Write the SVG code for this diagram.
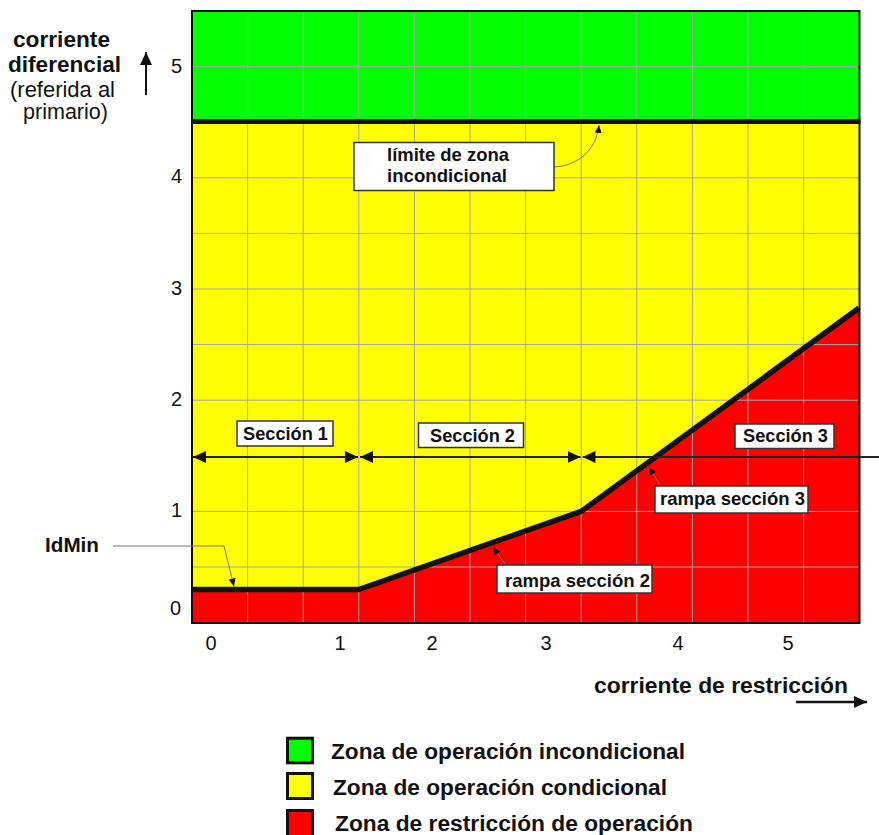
<svg xmlns="http://www.w3.org/2000/svg" width="879" height="835" viewBox="0 0 879 835">
<defs>
<style>
.t{font-family:"Liberation Sans",Arial,sans-serif;fill:#111}
.b{font-weight:bold}
.grid line{stroke:#a6a6a6;stroke-width:1}
.box{fill:#fff;stroke:#333;stroke-width:1.5}
.lead{fill:none;stroke:#777;stroke-width:1}
.sec{stroke:#222;stroke-width:2;fill:none}
</style>
<marker id="big" markerUnits="userSpaceOnUse" viewBox="0 0 13 12" markerWidth="13" markerHeight="12" refX="13" refY="6" orient="auto-start-reverse">
<path d="M0,0 L13,6 L0,12 z" fill="#111"/>
</marker>
<marker id="small" markerUnits="userSpaceOnUse" viewBox="0 0 8 7" markerWidth="8" markerHeight="7" refX="8" refY="3.5" orient="auto">
<path d="M0,0 L8,3.5 L0,7 z" fill="#111"/>
</marker>
</defs>
<rect width="879" height="835" fill="#fff"/>

<g id="zones">
<rect id="zone-green" x="192" y="11" width="667.5" height="110.5" fill="#00ff00"/>
<rect id="zone-yellow" x="192" y="121.5" width="667.5" height="501.5" fill="#ffff00"/>
<path id="zone-red" d="M192,623 L192,589.5 L358.8,589.5 L581.2,511.4 L859.5,308 L859.5,623 Z" fill="#ff0000"/>
</g>

<g id="grid" class="grid">
<line x1="247.6" y1="11" x2="247.6" y2="623"/>
<line x1="303.2" y1="11" x2="303.2" y2="623"/>
<line x1="358.8" y1="11" x2="358.8" y2="623"/>
<line x1="414.4" y1="11" x2="414.4" y2="623"/>
<line x1="470" y1="11" x2="470" y2="623"/>
<line x1="525.6" y1="11" x2="525.6" y2="623"/>
<line x1="581.2" y1="11" x2="581.2" y2="623"/>
<line x1="636.8" y1="11" x2="636.8" y2="623"/>
<line x1="692.4" y1="11" x2="692.4" y2="623"/>
<line x1="748" y1="11" x2="748" y2="623"/>
<line x1="803.6" y1="11" x2="803.6" y2="623"/>
<line x1="192" y1="66.6" x2="859.5" y2="66.6"/>
<line x1="192" y1="177.8" x2="859.5" y2="177.8"/>
<line x1="192" y1="233.4" x2="859.5" y2="233.4"/>
<line x1="192" y1="289" x2="859.5" y2="289"/>
<line x1="192" y1="344.6" x2="859.5" y2="344.6"/>
<line x1="192" y1="400.2" x2="859.5" y2="400.2"/>
<line x1="192" y1="511.4" x2="859.5" y2="511.4"/>
<line x1="192" y1="567" x2="859.5" y2="567"/>
</g>

<g id="frame">
<rect x="192" y="11" width="667.5" height="612" fill="none" stroke="#111" stroke-width="2"/>
</g>

<g id="limit-line">
<line x1="191" y1="121.5" x2="860.5" y2="121.5" stroke="#111" stroke-width="5"/>
</g>

<g id="characteristic">
<path d="M192,589.5 L358.8,589.5 L581.2,511.4 L859,308" fill="none" stroke="#111" stroke-width="5.5" stroke-linejoin="round"/>
</g>

<g id="connectors">
<line class="sec" x1="193" y1="457" x2="358" y2="457" marker-start="url(#big)" marker-end="url(#big)"/>
<line class="sec" x1="360" y1="457" x2="580.5" y2="457" marker-start="url(#big)" marker-end="url(#big)"/>
<line class="sec" x1="582.5" y1="457" x2="879" y2="457" marker-start="url(#big)"/>
<path class="lead" d="M113,546 L224,546 L234,586.5" marker-end="url(#small)"/>
<path class="lead" d="M554,167 C576,166 596,152 599,125" marker-end="url(#small)"/>
<path class="lead" d="M505,564 L493,547" marker-end="url(#small)"/>
<path class="lead" d="M660,485 L649,467" marker-end="url(#small)"/>
<line x1="146" y1="95" x2="146" y2="52" stroke="#111" stroke-width="2" marker-end="url(#big)"/>
<line x1="796" y1="702" x2="867" y2="702" stroke="#111" stroke-width="2.5" marker-end="url(#big)"/>
</g>

<g id="y-title" class="t">
<text class="b" x="13" y="46.7" font-size="22" textLength="97" lengthAdjust="spacingAndGlyphs">corriente</text>
<text class="b" x="8" y="71.7" font-size="22" textLength="113" lengthAdjust="spacingAndGlyphs">diferencial</text>
<text x="10" y="96.5" font-size="21.5" textLength="105" lengthAdjust="spacingAndGlyphs">(referida al</text>
<text x="23" y="118.5" font-size="21.5" textLength="85" lengthAdjust="spacingAndGlyphs">primario)</text>
</g>

<g id="y-ticks" class="t" font-size="20" text-anchor="end">
<text x="182" y="73">5</text>
<text x="182" y="183">4</text>
<text x="182" y="295">3</text>
<text x="182" y="406">2</text>
<text x="182" y="517">1</text>
<text x="181" y="615">0</text>
</g>

<g id="x-ticks" class="t" font-size="20" text-anchor="middle">
<text x="211" y="650">0</text>
<text x="340" y="650">1</text>
<text x="432" y="650">2</text>
<text x="546" y="650">3</text>
<text x="678" y="650">4</text>
<text x="788" y="650">5</text>
</g>

<g id="x-title" class="t b">
<text x="594" y="693" font-size="22" textLength="254" lengthAdjust="spacingAndGlyphs">corriente de restricción</text>
</g>

<g id="label-limite">
<rect class="box" x="354" y="142.5" width="200" height="48"/>
<text class="t b" x="387" y="161" font-size="18.5" textLength="122" lengthAdjust="spacingAndGlyphs">límite de zona</text>
<text class="t b" x="387" y="182" font-size="18.5" textLength="120" lengthAdjust="spacingAndGlyphs">incondicional</text>
</g>

<g id="label-seccion1">
<rect class="box" x="237" y="421" width="96" height="25"/>
<text class="t b" x="243" y="440" font-size="18.5" textLength="85" lengthAdjust="spacingAndGlyphs">Sección 1</text>
</g>
<g id="label-seccion2">
<rect class="box" x="418.5" y="423" width="105" height="24.5"/>
<text class="t b" x="430" y="441.5" font-size="18.5" textLength="85" lengthAdjust="spacingAndGlyphs">Sección 2</text>
</g>
<g id="label-seccion3">
<rect class="box" x="735" y="424" width="99" height="24.5"/>
<text class="t b" x="743" y="441.5" font-size="18.5" textLength="85" lengthAdjust="spacingAndGlyphs">Sección 3</text>
</g>
<g id="label-rampa3">
<rect class="box" x="655" y="486" width="153" height="27"/>
<text class="t b" x="660" y="505" font-size="18.5" textLength="145" lengthAdjust="spacingAndGlyphs">rampa sección 3</text>
</g>
<g id="label-rampa2">
<rect class="box" x="497" y="565" width="155" height="28"/>
<text class="t b" x="505" y="586.7" font-size="18.5" textLength="145" lengthAdjust="spacingAndGlyphs">rampa sección 2</text>
</g>
<g id="label-idmin">
<text class="t b" x="45" y="552" font-size="20.5" textLength="54" lengthAdjust="spacingAndGlyphs">IdMin</text>
</g>

<g id="legend">
<g id="legend-green">
<rect x="287.5" y="738.2" width="25" height="24.6" fill="#00ff00" stroke="#111" stroke-width="3"/>
<text class="t b" x="331" y="759" font-size="21.5" textLength="354" lengthAdjust="spacingAndGlyphs">Zona de operación incondicional</text>
</g>
<g id="legend-yellow">
<rect x="287.5" y="773.5" width="25" height="25" fill="#ffff00" stroke="#111" stroke-width="3"/>
<text class="t b" x="333" y="795" font-size="21.5" textLength="334" lengthAdjust="spacingAndGlyphs">Zona de operación condicional</text>
</g>
<g id="legend-red">
<rect x="287.5" y="810.5" width="25" height="26" fill="#ff0000" stroke="#111" stroke-width="3"/>
<text class="t b" x="335" y="831" font-size="21.5" textLength="358" lengthAdjust="spacingAndGlyphs">Zona de restricción de operación</text>
</g>
</g>
</svg>
